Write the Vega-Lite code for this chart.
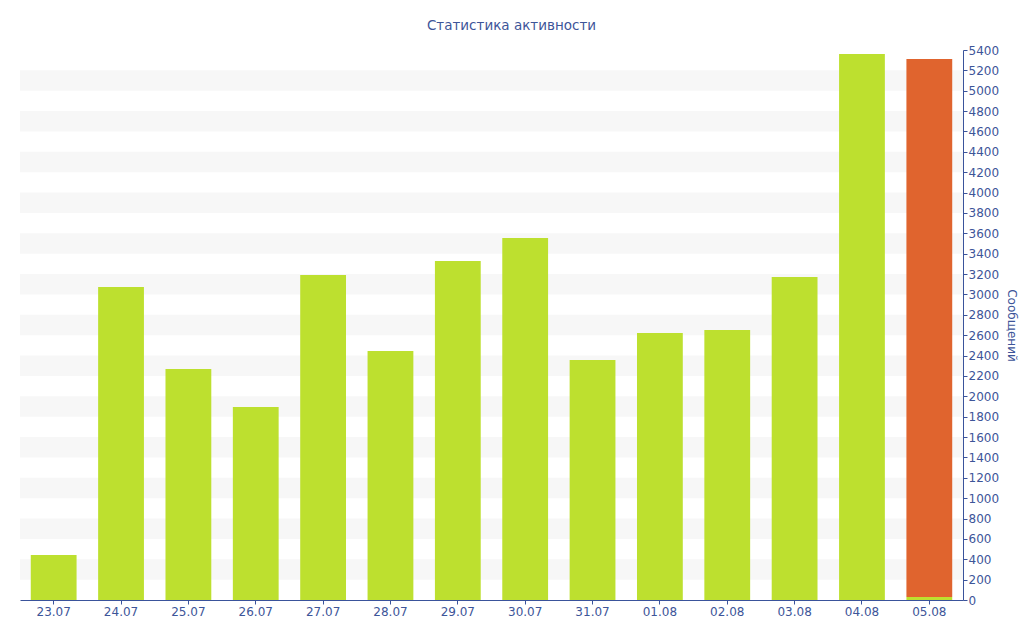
{
  "$schema": "https://vega.github.io/schema/vega-lite/v6.json",
  "width": 943,
  "height": 550,
  "autosize": {"type": "none"},
  "padding": {"left": 20, "top": 50, "right": 61, "bottom": 40},
  "background": "white",
  "config": {
    "view": {"stroke": null},
    "font": "DejaVu Sans",
    "axis": {
      "labelColor": "#3d5599",
      "titleColor": "#3d5599",
      "domainColor": "#3a539b",
      "tickColor": "#3a539b",
      "labelFont": "DejaVu Sans",
      "titleFont": "DejaVu Sans",
      "labelFontSize": 12,
      "grid": false
    },
    "axisY": {"labelOverlap": false, "labelFlush": false}
  },
  "title": {
    "text": "Статистика активности",
    "color": "#3d5599",
    "font": "DejaVu Sans",
    "fontSize": 13.5,
    "fontWeight": "normal",
    "anchor": "middle",
    "dx": 20,
    "offset": 12
  },
  "datasets": {
    "bands": [
      {"lo": 200, "hi": 400}, {"lo": 600, "hi": 800}, {"lo": 1000, "hi": 1200},
      {"lo": 1400, "hi": 1600}, {"lo": 1800, "hi": 2000}, {"lo": 2200, "hi": 2400},
      {"lo": 2600, "hi": 2800}, {"lo": 3000, "hi": 3200}, {"lo": 3400, "hi": 3600},
      {"lo": 3800, "hi": 4000}, {"lo": 4200, "hi": 4400}, {"lo": 4600, "hi": 4800},
      {"lo": 5000, "hi": 5200}
    ],
    "bars": [
      {"day": "23.07", "series": "done", "messages": 442},
      {"day": "24.07", "series": "done", "messages": 3073},
      {"day": "25.07", "series": "done", "messages": 2268},
      {"day": "26.07", "series": "done", "messages": 1895},
      {"day": "27.07", "series": "done", "messages": 3191},
      {"day": "28.07", "series": "done", "messages": 2445},
      {"day": "29.07", "series": "done", "messages": 3328},
      {"day": "30.07", "series": "done", "messages": 3554},
      {"day": "31.07", "series": "done", "messages": 2356},
      {"day": "01.08", "series": "done", "messages": 2621},
      {"day": "02.08", "series": "done", "messages": 2651},
      {"day": "03.08", "series": "done", "messages": 3171},
      {"day": "04.08", "series": "done", "messages": 5361},
      {"day": "05.08", "series": "done", "messages": 30},
      {"day": "05.08", "series": "today", "messages": 5282}
    ]
  },
  "layer": [
    {
      "data": {"name": "bands"},
      "mark": {"type": "rect", "color": "#f7f7f7"},
      "encoding": {
        "y": {
          "field": "lo",
          "type": "quantitative",
          "title": "Сообщений",
          "scale": {"domain": [0, 5400], "nice": false},
          "axis": {
            "orient": "right",
            "values": [0, 200, 400, 600, 800, 1000, 1200, 1400, 1600, 1800, 2000, 2200, 2400, 2600, 2800, 3000, 3200, 3400, 3600, 3800, 4000, 4200, 4400, 4600, 4800, 5000, 5200, 5400],
            "format": "d",
            "labelOverlap": false,
            "labelFlush": false,
            "tickSize": 4,
            "labelPadding": 1,
            "titleAngle": 90,
            "titleFontSize": 12,
            "titleFontWeight": "normal",
            "titlePadding": 6
          }
        },
        "y2": {"field": "hi"}
      }
    },
    {
      "data": {"name": "bars"},
      "mark": {"type": "bar"},
      "encoding": {
        "x": {
          "field": "day",
          "type": "ordinal",
          "sort": null,
          "title": null,
          "scale": {"paddingInner": 0.32, "paddingOuter": 0.16},
          "axis": {"labelAngle": 0, "tickSize": 4, "labelPadding": 2}
        },
        "y": {
          "field": "messages",
          "type": "quantitative",
          "aggregate": "sum",
          "stack": "zero",
          "title": "Сообщений",
          "axis": {
            "orient": "right",
            "values": [0, 200, 400, 600, 800, 1000, 1200, 1400, 1600, 1800, 2000, 2200, 2400, 2600, 2800, 3000, 3200, 3400, 3600, 3800, 4000, 4200, 4400, 4600, 4800, 5000, 5200, 5400],
            "format": "d",
            "labelOverlap": false,
            "labelFlush": false,
            "tickSize": 4,
            "labelPadding": 1,
            "titleAngle": 90,
            "titleFontSize": 12,
            "titleFontWeight": "normal",
            "titlePadding": 6
          }
        },
        "color": {
          "field": "series",
          "type": "nominal",
          "scale": {"domain": ["done", "today"], "range": ["#bde02f", "#e0642e"]},
          "legend": null
        },
        "order": {"field": "series", "sort": "ascending"}
      }
    }
  ]
}
